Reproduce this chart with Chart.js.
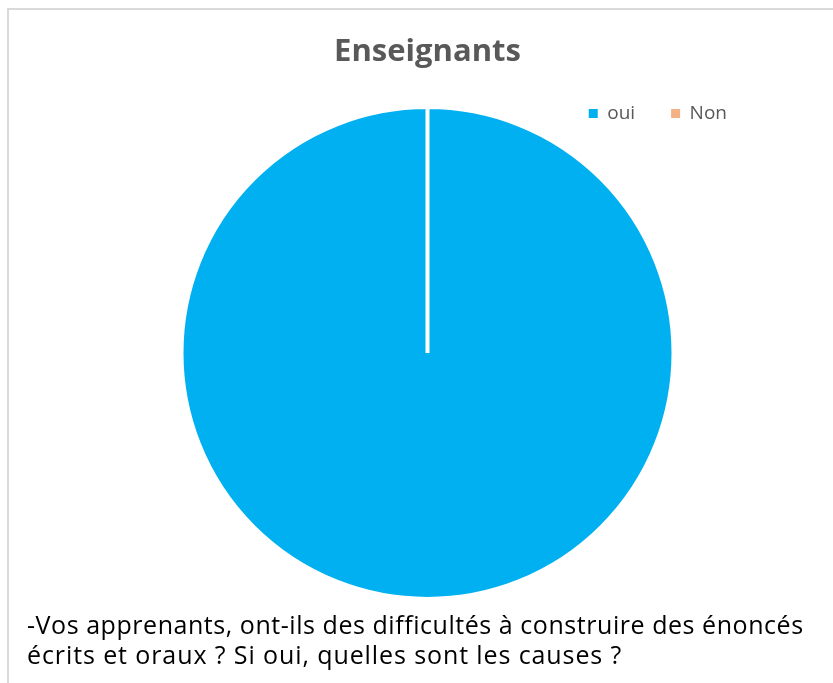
<!DOCTYPE html>
<html>
<head>
<meta charset="utf-8">
<script src="https://cdn.jsdelivr.net/npm/chart.js@4.4.1/dist/chart.umd.min.js"></script>
<style>
  html, body { margin: 0; padding: 0; background: #fff; }
  body { width: 833px; height: 683px; position: relative; overflow: hidden; }
  #frame {
    position: absolute; left: 7px; top: 8px; right: -10px; bottom: -10px;
    border-left: 2px solid #d9d9d9; border-top: 2px solid #d9d9d9;
  }
  #wrap { position: absolute; left: 0; top: 0; width: 833px; height: 683px; }
  .line {
    position: absolute; left: 27px; white-space: nowrap;
    font-family: "Open Sans", sans-serif; font-size: 25px; line-height: 25px;
    letter-spacing: 0.55px; color: #000;
  }
</style>
</head>
<body>
<div id="frame"></div>
<div id="wrap"><canvas id="pieChart" width="833" height="683"></canvas></div>
<div class="line" style="top:612px">-Vos apprenants, ont-ils des difficultés à construire des énoncés</div>
<div class="line" style="top:642px; letter-spacing:0.9px">écrits et oraux ? Si oui, quelles sont les causes ?</div>
<script>
const chartTitle = "Enseignants";
const labels = ["oui", "Non"];
const values = [100, 0];
const colors = ["#00B0F0", "#F4B183"];

function legendLabels(chart) {
  const items = Chart.overrides.pie.plugins.legend.labels.generateLabels(chart);
  return items.map(item => {
    item.lineWidth = 0;
    return item;
  });
}

function drawChart() {
  const ctx = document.getElementById("pieChart").getContext("2d");
  new Chart(ctx, {
    type: "pie",
    data: {
      labels: labels,
      datasets: [{
        data: values,
        backgroundColor: colors,
        borderColor: "#ffffff",
        borderWidth: 4
      }]
    },
    options: {
      responsive: false,
      animation: false,
      radius: 246,
      layout: {
        padding: { left: 92, right: 70, top: 37, bottom: 110 }
      },
      plugins: {
        title: {
          display: true,
          text: chartTitle,
          color: "#595959",
          font: { family: "Open Sans", size: 31, weight: "bold", lineHeight: 1 },
          padding: { top: 0, bottom: 0 }
        },
        legend: {
          position: "top",
          align: "end",
          labels: {
            color: "#595959",
            boxWidth: 9,
            boxHeight: 9,
            padding: 36,
            font: { family: "Open Sans", size: 19 },
            generateLabels: legendLabels
          }
        },
        tooltip: { enabled: false }
      }
    }
  });
}

document.addEventListener("DOMContentLoaded", drawChart);
</script>
</body>
</html>
